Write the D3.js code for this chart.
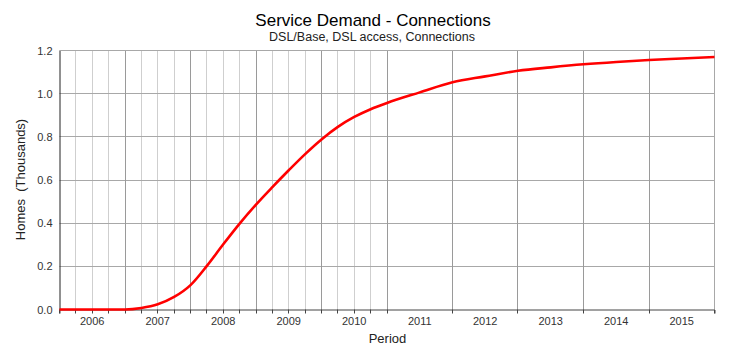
<!DOCTYPE html>
<html>
<head>
<meta charset="utf-8">
<script src="https://cdn.jsdelivr.net/npm/d3@7"></script>
<style>
    body { margin: 0; background: #fff; }
    text { font-family: "Liberation Sans", Arial, sans-serif; }
</style>
</head>
<body>
<svg width="747" height="354"></svg>
<script>

// Period in decimal years, connections in thousands of homes
var periods = [2006, 2006.25, 2006.5, 2006.75,
    2007, 2007.25, 2007.5, 2007.75,
    2008, 2008.25, 2008.5, 2008.75,
    2009, 2009.25, 2009.5, 2009.75,
    2010, 2010.25, 2010.5, 2010.75,
    2011, 2011.5, 2012, 2012.5, 2013, 2013.5, 2014, 2014.5, 2015, 2015.5, 2016];
var connections = [0, 0, 0, 0,
    0, 0.007, 0.024, 0.058,
    0.113, 0.202, 0.302, 0.398,
    0.486, 0.567, 0.645, 0.72,
    0.788, 0.846, 0.892, 0.928,
    0.957, 1.006, 1.053, 1.08, 1.106, 1.122, 1.136, 1.147, 1.156, 1.163, 1.170];

var yearLabels = ["2006", "2007", "2008", "2009", "2010", "2011", "2012", "2013", "2014", "2015"];
var yTicks = [0, 0.2, 0.4, 0.6, 0.8, 1.0, 1.2];

var margin = { top: 50, right: 32, bottom: 45, left: 60 }
    , width = 747 - margin.left - margin.right
    , height = 354 - margin.top - margin.bottom;

var data = periods.map(function (p, i) { return { time: p, value: connections[i] }; });

// year boundaries and the quarter lines (only drawn up to 2010)
var yearLines = d3.range(2006, 2017);
var quarterLines = [];
yearLabels.slice(0, 5).forEach(function (y) {
    [0.25, 0.5, 0.75].forEach(function (q) { quarterLines.push(+y + q); });
});

var x = d3.scaleLinear().domain([2006, 2016]).range([0, width]);
var y = d3.scaleLinear().domain([0, 1.2]).range([height, 0]);

// snap vertical lines to whole pixels
function xr(d) { return Math.round(x(d)); }

var svg = d3.select("svg");

svg.append("text")
    .attr("x", 373).attr("y", 26)
    .attr("text-anchor", "middle")
    .style("font-size", "17px")
    .attr("fill", "#000")
    .text("Service Demand - Connections");

svg.append("text")
    .attr("x", 372).attr("y", 40.5)
    .attr("text-anchor", "middle")
    .style("font-size", "12.5px")
    .attr("fill", "#222")
    .text("DSL/Base, DSL access, Connections");

var g = svg.append("g")
    .attr("transform", "translate(" + (margin.left - 0.5) + "," + (margin.top + 0.5) + ")");

// quarter grid
g.append("g")
    .selectAll("line")
    .data(quarterLines)
    .enter().append("line")
    .attr("x1", xr).attr("x2", xr)
    .attr("y1", 0).attr("y2", height)
    .attr("stroke", "#cfcfcf");

// horizontal grid
g.append("g")
    .selectAll("line")
    .data(yTicks.slice(1))
    .enter().append("line")
    .attr("x1", 0).attr("x2", width)
    .attr("y1", function (d) { return Math.round(y(d)); })
    .attr("y2", function (d) { return Math.round(y(d)); })
    .attr("stroke", "#a8a8a8");

// year grid
g.append("g")
    .selectAll("line")
    .data(yearLines.slice(1))
    .enter().append("line")
    .attr("x1", xr).attr("x2", xr)
    .attr("y1", 0).attr("y2", height)
    .attr("stroke", "#9a9a9a");

// x axis: ticks at quarters up to 2011, then yearly
g.append("g")
    .attr("transform", "translate(0," + height + ")")
    .call(d3.axisBottom(x)
        .tickValues(quarterLines.concat(yearLines))
        .tickSize(4)
        .tickFormat(""))
    .call(function (a) {
        a.select(".domain").attr("stroke", "#444");
        a.selectAll(".tick")
            .attr("transform", function (d) { return "translate(" + xr(d) + ",0)"; })
            .select("line").attr("stroke", "#444");
    });

// year labels centred in each period
g.append("g")
    .selectAll("text")
    .data(yearLabels)
    .enter().append("text")
    .attr("x", function (d) { return x(+d + 0.5); })
    .attr("y", height + 15)
    .attr("text-anchor", "middle")
    .style("font-size", "11px")
    .attr("fill", "#333")
    .text(function (d) { return d; });

// y axis
g.append("g")
    .call(d3.axisLeft(y).tickValues(yTicks).tickSize(0).tickPadding(7)
        .tickFormat(d3.format(".1f")))
    .call(function (a) {
        a.select(".domain").attr("stroke", "#222");
        a.selectAll("text").style("font-size", "11px").attr("fill", "#333")
            .style("font-family", "'Liberation Sans', Arial, sans-serif");
    });

// top and right frame
g.append("line").attr("x1", 0).attr("x2", width).attr("y1", 0).attr("y2", 0).attr("stroke", "#a8a8a8");
g.append("line").attr("x1", width).attr("x2", width).attr("y1", 0).attr("y2", height).attr("stroke", "#a8a8a8");

// the series
var line = d3.line()
    .x(function (d) { return x(d.time); })
    .y(function (d) { return y(d.value); })
    .curve(d3.curveMonotoneX);

g.append("path")
    .datum(data)
    .attr("fill", "none")
    .attr("stroke", "#ff0000")
    .attr("stroke-width", 2.6)
    .attr("d", line);

// axis titles
svg.append("text")
    .attr("x", margin.left + width / 2).attr("y", 343)
    .attr("text-anchor", "middle")
    .style("font-size", "13px")
    .attr("fill", "#222")
    .text("Period");

svg.append("text")
    .attr("transform", "translate(25," + (margin.top + height / 2) + ") rotate(-90)")
    .attr("text-anchor", "middle")
    .style("font-size", "13px")
    .style("white-space", "pre")
    .attr("fill", "#222")
    .text("Homes  (Thousands)");

</script>
</body>
</html>
